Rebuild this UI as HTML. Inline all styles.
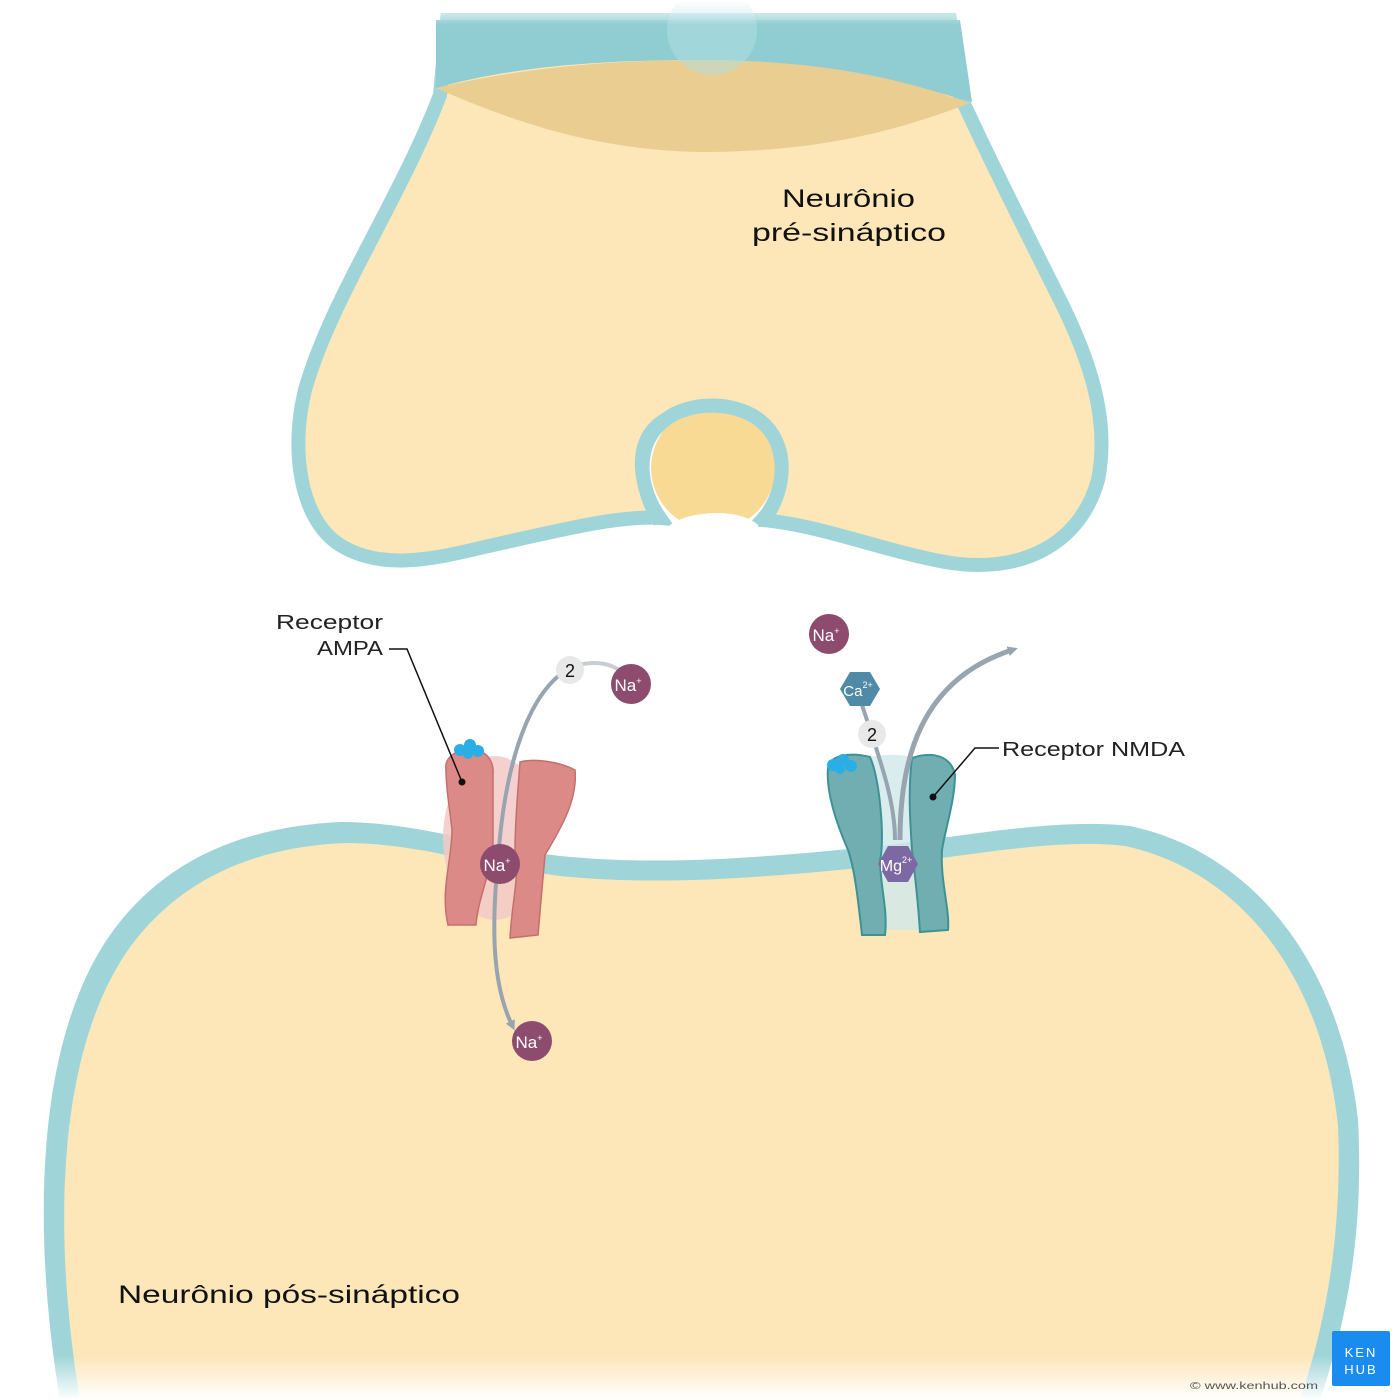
<!DOCTYPE html>
<html><head><meta charset="utf-8">
<style>
html,body{margin:0;padding:0;background:#fff;}
svg{display:block;font-family:"Liberation Sans",sans-serif;}
</style></head><body>
<svg width="1400" height="1400" viewBox="0 0 1400 1400" xmlns="http://www.w3.org/2000/svg">
<defs>
<linearGradient id="fadeTop" x1="0" y1="0" x2="0" y2="1">
<stop offset="0" stop-color="#fff" stop-opacity="1"/><stop offset="1" stop-color="#fff" stop-opacity="0"/>
</linearGradient>
<linearGradient id="fadeBot" x1="0" y1="0" x2="0" y2="1">
<stop offset="0" stop-color="#fff" stop-opacity="0"/><stop offset="1" stop-color="#fff" stop-opacity="1"/>
</linearGradient>
<marker id="ah" markerWidth="10" markerHeight="10" refX="4" refY="5" orient="auto" markerUnits="userSpaceOnUse" viewBox="0 0 10 10">
<path d="M0,0 L10,5 L0,10 Z" fill="#98a5b0"/>
</marker>
</defs>

<!-- presynaptic -->
<path d="M447,20 L440,95 C400,200 330,300 305,390 C290,450 300,520 340,545 C380,570 430,560 480,548 C560,530 620,515 660,518 C640,490 630,440 665,420 C690,400 740,400 765,425 C790,450 785,495 762,520 C820,525 880,550 945,562 C1020,575 1080,545 1098,480 C1110,420 1090,360 1060,300 C1020,220 985,150 960,95 L950,20 Z"
 fill="#fde6b8" stroke="#9fd5d8" stroke-width="14"/>
<path d="M436,20 L960,20 L972,102 C880,75 800,60 700,60 C580,60 500,70 436,88 Z" fill="#8fcdd2"/>
<path d="M436,88 C520,68 610,60 700,60 C820,60 900,78 970,103 C900,130 820,152 700,152 C600,150 520,125 436,88 Z" fill="#e9cd91"/>
<circle cx="712" cy="30" r="45" fill="#b3e0e4" opacity="0.5"/>
<!-- vesicle -->
<circle cx="713" cy="468" r="62" fill="#f9da94"/>
<path d="M660,522 C640,490 632,445 665,420 C690,400 740,400 765,425 C790,450 785,495 762,522" fill="none" stroke="#9fd5d8" stroke-width="14"/>
<path d="M670,525 C690,510 740,508 758,525 L760,540 L668,540 Z" fill="#fff"/>
<rect x="420" y="0" width="570" height="25" fill="url(#fadeTop)"/>
<text x="782" y="207" font-size="25" fill="#111" textLength="133" lengthAdjust="spacingAndGlyphs">Neurônio</text>
<text x="752" y="241" font-size="25" fill="#111" textLength="194" lengthAdjust="spacingAndGlyphs">pré-sináptico</text>

<!-- postsynaptic -->
<path d="M60,1400 C35,1250 30,1050 110,935 C170,850 260,826 340,822 C420,822 480,846 560,856 C660,866 760,858 880,846 C980,834 1060,818 1130,826 C1250,851 1340,960 1358,1120 C1365,1250 1340,1340 1320,1400 Z" fill="#9fd5d8"/>
<path d="M80,1400 C55,1250 52,1060 128,950 C185,870 270,846 345,843 C420,843 480,866 560,876 C660,886 760,878 880,866 C980,854 1060,838 1125,846 C1240,871 1322,975 1338,1125 C1343,1250 1320,1340 1300,1400 Z" fill="#fde6b8"/>
<rect x="0" y="1355" width="1400" height="45" fill="url(#fadeBot)"/>
<text x="118" y="1303" font-size="25" fill="#111" textLength="342" lengthAdjust="spacingAndGlyphs">Neurônio pós-sináptico</text>

<!-- AMPA receptor -->
<ellipse cx="495" cy="838" rx="52" ry="82" fill="#f2c9c6" opacity="0.85"/>
<path d="M446,770 C444,755 460,748 475,750 C488,752 494,762 493,775 L493,850 C488,880 478,900 476,925 L448,925 C440,890 452,860 452,830 C450,810 446,790 446,770 Z" fill="#dc8a87" stroke="#c56f6c" stroke-width="1.5"/>
<path d="M520,762 C535,758 560,762 575,770 C578,800 560,830 545,855 L538,935 L510,938 C512,900 520,875 515,850 C515,820 518,790 520,762 Z" fill="#dc8a87" stroke="#c56f6c" stroke-width="1.5"/>
<g fill="#29aee6"><circle cx="460" cy="750" r="6"/><circle cx="470" cy="745" r="6"/><circle cx="478" cy="751" r="6"/><circle cx="468" cy="754" r="5"/></g>
<path d="M570,668 C530,690 505,760 498,860 C490,940 495,990 512,1025" fill="none" stroke="#98a5b0" stroke-width="4" marker-end="url(#ah)"/>
<path d="M578,665 C600,660 615,665 625,675" fill="none" stroke="#c9ced3" stroke-width="4"/>
<circle cx="570" cy="670" r="14" fill="#e8e8e8"/>
<text x="570" y="677" font-size="18" text-anchor="middle" fill="#111">2</text>
<circle cx="631" cy="684" r="20" fill="#8d4c6e"/>
<text x="628" y="691" font-size="17" text-anchor="middle" fill="#fff">Na<tspan font-size="9" dy="-7">+</tspan></text>
<circle cx="500" cy="864" r="20" fill="#8d4c6e"/>
<text x="497" y="871" font-size="17" text-anchor="middle" fill="#fff">Na<tspan font-size="9" dy="-7">+</tspan></text>
<circle cx="532" cy="1041" r="20" fill="#8d4c6e"/>
<text x="529" y="1048" font-size="17" text-anchor="middle" fill="#fff">Na<tspan font-size="9" dy="-7">+</tspan></text>
<text x="276" y="629" font-size="20" fill="#222" textLength="107" lengthAdjust="spacingAndGlyphs">Receptor</text>
<text x="317" y="655" font-size="20" fill="#222" textLength="66" lengthAdjust="spacingAndGlyphs">AMPA</text>
<polyline points="389,649 407,649 462,782" fill="none" stroke="#111" stroke-width="1.5"/>
<circle cx="462" cy="782" r="3.5" fill="#111"/>

<!-- NMDA receptor -->
<path d="M858,760 C880,752 925,752 935,770 L935,930 L870,930 Z" fill="#cfe8ea" opacity="0.8"/>
<path d="M828,768 C830,755 850,752 870,757 C880,780 885,840 880,860 C880,885 888,910 885,935 L862,935 C858,900 855,870 848,850 C835,820 826,790 828,768 Z" fill="#70aeb2" stroke="#3e9295" stroke-width="2"/>
<path d="M912,758 C935,750 952,758 955,775 C955,800 945,830 942,850 C940,880 950,910 948,930 L920,932 C918,900 915,875 912,850 C910,820 908,790 912,758 Z" fill="#70aeb2" stroke="#3e9295" stroke-width="2"/>
<g fill="#29aee6"><circle cx="833" cy="765" r="6"/><circle cx="843" cy="760" r="6"/><circle cx="851" cy="766" r="6"/><circle cx="840" cy="769" r="5"/></g>
<path d="M862,705 C880,760 895,800 895,840" fill="none" stroke="#98a5b0" stroke-width="4"/>
<path d="M900,840 C900,760 920,680 1012,650" fill="none" stroke="#98a5b0" stroke-width="5" marker-end="url(#ah)"/>
<polygon points="918,864 908,882 888,882 878,864 888,846 908,846" fill="#7e68a4"/>
<text x="896" y="871" font-size="16" text-anchor="middle" fill="#fff">Mg<tspan font-size="9" dy="-8">2+</tspan></text>
<circle cx="872" cy="734" r="14" fill="#e8e8e8"/>
<text x="872" y="741" font-size="18" text-anchor="middle" fill="#111">2</text>
<polygon points="880,689 870,706 850,706 840,689 850,672 870,672" fill="#4f8aa6"/>
<text x="858" y="696" font-size="15" text-anchor="middle" fill="#fff">Ca<tspan font-size="9" dy="-8">2+</tspan></text>
<circle cx="829" cy="634" r="20" fill="#8d4c6e"/>
<text x="826" y="641" font-size="17" text-anchor="middle" fill="#fff">Na<tspan font-size="9" dy="-7">+</tspan></text>
<text x="1002" y="756" font-size="20" fill="#222" textLength="183" lengthAdjust="spacingAndGlyphs">Receptor NMDA</text>
<polyline points="999,748 975,748 933,797" fill="none" stroke="#111" stroke-width="1.5"/>
<circle cx="933" cy="797" r="3.5" fill="#111"/>

<!-- logo -->
<rect x="1332" y="1331" width="58" height="55" rx="2" fill="#1a8cf0"/>
<text x="1361" y="1357" font-size="13" text-anchor="middle" fill="#fff" letter-spacing="2">KEN</text>
<text x="1361" y="1374" font-size="13" text-anchor="middle" fill="#fff" letter-spacing="2">HUB</text>
<text x="1190" y="1389" font-size="10" fill="#555" textLength="128" lengthAdjust="spacingAndGlyphs">© www.kenhub.com</text>
</svg>
</body></html>
